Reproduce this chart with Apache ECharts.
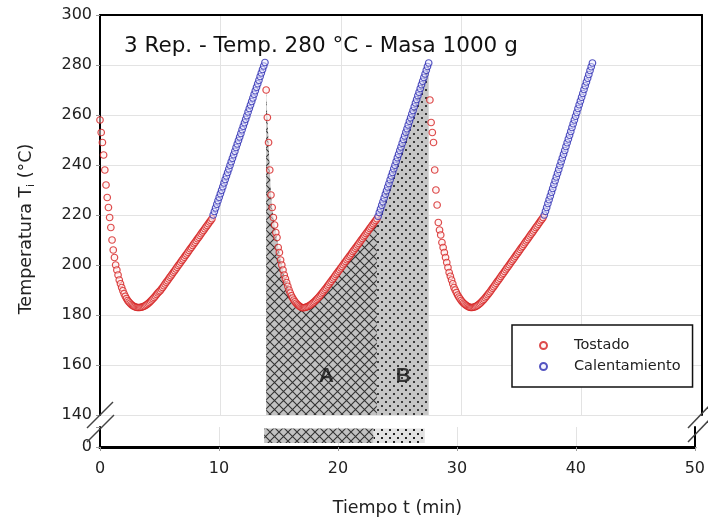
<!DOCTYPE html>
<html>
<head>
<meta charset="utf-8">
<script src="https://cdn.jsdelivr.net/npm/echarts@6/dist/echarts.min.js"></script>
<style>
html,body{margin:0;padding:0;background:#fff;}
#chart{width:708px;height:523px;}
</style>
</head>
<body>
<div id="chart"></div>
<script>
// ---------------- DATA ----------------
const chartTitle = '3 Rep. - Temp. 280 °C - Masa 1000 g';
const seriesNames = ['Tostado', 'Calentamiento'];
const xTicks = [0, 10, 20, 30, 40, 50];
const yTicksUpper = [140, 160, 180, 200, 220, 240, 260, 280, 300];
const yTicksLower = [0];
const sampleStep = 0.1;               // min between readings
const tostadoStart = [0.0, 13.8, 27.4];   // min
const calentStart = [9.4, 23.1, 36.9];    // min

const tostado1 = [258,253,249,244,238,232,227,223,219,215,
  210,206,203,200,198,196,194,192.5,191,189.7,
  188.5,187.5,186.6,185.8,185.2,184.7,184.2,183.8,183.5,183.3,
  183.1,183,183,183,183.1,183.2,183.4,183.6,183.9,184.2,
  184.6,185,185.5,186,186.5,187,187.6,188.2,188.8,189.3,
  189.7,190.4,191,191.7,192.4,193.1,193.7,194.4,195.1,195.7,
  196.4,197.1,197.7,198.4,199.1,199.8,200.4,201.1,201.8,202.4,
  203.1,203.8,204.4,205.1,205.8,206.5,207.1,207.8,208.5,209.1,
  209.8,210.5,211.1,211.8,212.5,213.2,213.8,214.5,215.2,215.8,
  216.5,217.2,217.8,218.5];
const calent1 = [220,221.4,222.8,224.3,225.7,227.1,228.5,229.9,231.3,232.8,
  234.2,235.6,237,238.4,239.9,241.3,242.7,244.1,245.5,247,
  248.4,249.8,251.2,252.6,254.1,255.5,256.9,258.3,259.7,261.2,
  262.6,264,265.4,266.8,268.3,269.7,271.1,272.5,273.9,275.4,
  276.8,278.2,279.6,281];
const tostado2 = [270,259,249,238,228,223,219,216,213,211,
  207,205,202,200,198,196,194.5,193,191.5,190,
  188.8,187.7,186.8,186,185.3,184.7,184.2,183.8,183.4,183.1,
  182.9,182.9,183,183.1,183.3,183.5,183.8,184.1,184.5,184.9,
  185.3,185.8,186.3,186.8,187.3,187.9,188.5,189.1,189.7,190.3,
  190.9,191.6,192.2,192.9,193.5,194.2,194.8,195.5,196.2,196.8,
  197.5,198.1,198.8,199.4,200.1,200.8,201.4,202.1,202.7,203.4,
  204,204.7,205.4,206,206.7,207.3,208,208.6,209.3,210,
  210.6,211.3,211.9,212.6,213.2,213.9,214.6,215.2,215.9,216.5,
  217.2,217.8,218.5];
const calent2 = [219.5,221,222.4,223.9,225.3,226.8,228.3,229.7,231.2,232.6,
  234.1,235.6,237,238.5,239.9,241.4,242.9,244.3,245.8,247.2,
  248.7,250.2,251.6,253.1,254.5,256,257.5,258.9,260.4,261.8,
  263.3,264.8,266.2,267.7,269.1,270.6,272.1,273.5,275,276.4,
  277.9,279.4,280.8];
const tostado3 = [266,257,253,249,238,230,224,217,214,212,
  209,207,205,203,201,199,197,195.5,194,192.5,
  191,190,189,188,187.2,186.5,185.8,185.2,184.7,184.3,
  183.9,183.6,183.3,183.1,183,183,183.1,183.2,183.4,183.7,
  184,184.4,184.8,185.3,185.8,186.3,186.9,187.5,188.1,188.7,
  189.3,190,190.7,191.3,192,192.7,193.4,194,194.7,195.4,
  196.1,196.7,197.4,198.1,198.8,199.4,200.1,200.8,201.5,202.1,
  202.8,203.5,204.2,204.8,205.5,206.2,206.9,207.5,208.2,208.9,
  209.6,210.2,210.9,211.6,212.3,212.9,213.6,214.3,215,215.6,
  216.3,217,217.7,218.3,219];
const calent3 = [220,221.5,223,224.6,226.1,227.6,229.1,230.6,232.2,233.7,
  235.2,236.7,238.2,239.8,241.3,242.8,244.3,245.8,247.4,248.9,
  250.4,251.9,253.4,255,256.5,258,259.5,261,262.6,264.1,
  265.6,267.1,268.6,270.2,271.7,273.2,274.7,276.2,277.8,279.3,
  280.8];

const regionNames = ['A', 'B'];
const regionBounds = [[13.8, 23.0], [23.0, 27.3]];   // min
const regionLabelPos = [[18.8, 155.5], [25.2, 155.5]];

// ---------------- BUILD ----------------
function toPoints(start, arr) {
  return arr.map((v, i) => [+(start + i * sampleStep).toFixed(2), v]);
}
const tostadoArrs = [tostado1, tostado2, tostado3];
const calentArrs = [calent1, calent2, calent3];
const tostadoPts = [].concat(...tostadoArrs.map((a, k) => toPoints(tostadoStart[k], a)));
const calentPts = [].concat(...calentArrs.map((a, k) => toPoints(calentStart[k], a)));
const areaA = toPoints(tostadoStart[1], tostado2);
const areaB = [[regionBounds[1][0], tostado2[tostado2.length - 1]]].concat(toPoints(calentStart[1], calent2));

function crossPattern(bg, fg) {
  const c = document.createElement('canvas'); c.width = 9; c.height = 9;
  const g = c.getContext('2d');
  g.fillStyle = bg; g.fillRect(0, 0, 9, 9);
  g.strokeStyle = fg; g.lineWidth = 1.1;
  g.beginPath(); g.moveTo(0, 0); g.lineTo(9, 9); g.moveTo(9, 0); g.lineTo(0, 9); g.stroke();
  return c;
}
function dotPattern(bg, fg) {
  const c = document.createElement('canvas'); c.width = 8; c.height = 8;
  const g = c.getContext('2d');
  g.fillStyle = bg; g.fillRect(0, 0, 8, 8);
  g.fillStyle = fg;
  g.fillRect(1, 1, 2, 2); g.fillRect(5, 5, 2, 2);
  return c;
}
const patA = { image: crossPattern('#c2c2c2', '#333'), repeat: 'repeat' };
const patB = { image: dotPattern('#c6c6c6', '#3a3a3a'), repeat: 'repeat' };
const patBLow = { image: dotPattern('#e2e2e2', '#222'), repeat: 'repeat' };

const FONT = 'DejaVu Sans, Verdana, sans-serif';
const RED = '#d41e1e', BLUE = '#2a2ab2';
const gridGray = '#e3e3e3';

const chart = echarts.init(document.getElementById('chart'), null, { renderer: 'canvas' });
const option = {
  animation: false,
  backgroundColor: '#fff',
  textStyle: { fontFamily: FONT },
  title: {
    text: chartTitle, left: 119, top: 30,
    textStyle: { fontSize: 21.5, fontWeight: 'normal', color: '#111', fontFamily: FONT }
  },
  legend: {
    data: seriesNames,
    orient: 'vertical', left: 512, top: 325,
    padding: [12, 12, 12, 27], itemGap: 4,
    itemWidth: 7, itemHeight: 7,
    borderColor: '#111', borderWidth: 1.5, borderRadius: 0,
    backgroundColor: '#fff',
    textStyle: { fontSize: 14.5, color: '#222', fontFamily: FONT, lineHeight: 17, padding: [0, 0, 0, 22] }
  },
  grid: [
    { left: 100, right: 6, top: 15, height: 400 },
    { left: 100, right: 6, top: 427, height: 20 }
  ],
  xAxis: [
    { gridIndex: 0, type: 'value', min: 0, max: 50, interval: 10, position: 'bottom',
      axisLine: { show: false }, axisTick: { show: false }, axisLabel: { show: false },
      splitLine: { show: true, lineStyle: { color: gridGray, width: 1 } } },
    { gridIndex: 0, type: 'value', min: 0, max: 50, interval: 10, position: 'top',
      axisLine: { show: true, onZero: false, lineStyle: { color: '#000', width: 2 } },
      axisTick: { show: false }, axisLabel: { show: false }, splitLine: { show: false } },
    { gridIndex: 1, type: 'value', min: 0, max: 50, interval: 10, position: 'bottom',
      axisLine: { show: true, onZero: false, lineStyle: { color: '#000', width: 3 } },
      axisTick: { show: true, length: 4, lineStyle: { color: '#999' } },
      axisLabel: { show: true, fontSize: 16, color: '#222', margin: 14, fontFamily: FONT,
        customValues: xTicks },
      splitLine: { show: true, lineStyle: { color: gridGray, width: 1 } },
      name: 'Tiempo t (min)', nameLocation: 'middle', nameGap: 52,
      nameTextStyle: { fontSize: 17.5, color: '#222', fontFamily: FONT } }
  ],
  yAxis: [
    { gridIndex: 0, type: 'value', min: 140, max: 300, interval: 20, position: 'left',
      axisLine: { show: true, onZero: false, lineStyle: { color: '#000', width: 2 } },
      axisTick: { show: true, length: 4, lineStyle: { color: '#999' } },
      axisLabel: { fontSize: 16, color: '#222', margin: 8, fontFamily: FONT },
      splitLine: { show: true, lineStyle: { color: gridGray, width: 1 } },
      name: 'Temperatura T{sub|i} (°C)', nameLocation: 'middle', nameGap: 63,
      nameTextStyle: { fontSize: 17.5, color: '#222', fontFamily: FONT, lineHeight: 22,
        padding: [0, 28, 0, 0],
        rich: { sub: { fontSize: 11, verticalAlign: 'bottom', lineHeight: 22, fontFamily: FONT, color: '#222' } } } },
    { gridIndex: 0, type: 'value', min: 140, max: 300, interval: 20, position: 'right',
      axisLine: { show: true, onZero: false, lineStyle: { color: '#000', width: 2 } },
      axisTick: { show: false }, axisLabel: { show: false }, splitLine: { show: false } },
    { gridIndex: 1, type: 'value', min: 0, max: 10, interval: 10, position: 'left',
      axisLine: { show: true, onZero: false, lineStyle: { color: '#000', width: 2 } },
      axisTick: { show: true, length: 4, lineStyle: { color: '#999' } },
      axisLabel: { fontSize: 16, color: '#222', margin: 8, fontFamily: FONT,
        formatter: v => (yTicksLower.indexOf(v) >= 0 ? String(v) : '') },
      splitLine: { show: false } },
    { gridIndex: 1, type: 'value', min: 0, max: 10, interval: 10, position: 'right',
      axisLine: { show: true, onZero: false, lineStyle: { color: '#000', width: 2 } },
      axisTick: { show: false }, axisLabel: { show: false }, splitLine: { show: false } }
  ],
  series: [
    { name: 'regionA', type: 'line', xAxisIndex: 0, yAxisIndex: 0, data: areaA,
      symbol: 'none', silent: true, z: 1, lineStyle: { width: 0, opacity: 0 },
      areaStyle: { color: patA, opacity: 1, origin: 'start' } },
    { name: 'regionB', type: 'line', xAxisIndex: 0, yAxisIndex: 0, data: areaB,
      symbol: 'none', silent: true, z: 1, lineStyle: { width: 0, opacity: 0 },
      areaStyle: { color: patB, opacity: 1, origin: 'start' } },
    { name: 'regionLow', type: 'custom', xAxisIndex: 2, yAxisIndex: 2, silent: true, z: 1,
      data: regionBounds.map((b, i) => [b[0], b[1], i]),
      renderItem: function (params, api) {
        const p0 = api.coord([api.value(0), 9.3]);
        const p1 = api.coord([api.value(1), 2]);
        return { type: 'rect',
          shape: { x: p0[0], y: p0[1], width: p1[0] - p0[0], height: p1[1] - p0[1] },
          style: { fill: api.value(2) === 0 ? patA : patBLow } };
      } },
    { name: seriesNames[0], type: 'scatter', xAxisIndex: 0, yAxisIndex: 0, data: tostadoPts,
      symbol: 'circle', symbolSize: 6.5, z: 3,
      itemStyle: { color: 'rgba(255,235,235,0.6)', borderColor: RED, borderWidth: 1.2 } },
    { name: seriesNames[1], type: 'scatter', xAxisIndex: 0, yAxisIndex: 0, data: calentPts,
      symbol: 'circle', symbolSize: 6.5, z: 3,
      itemStyle: { color: 'rgba(235,235,255,0.6)', borderColor: BLUE, borderWidth: 1.2 } },
    { name: 'labels', type: 'scatter', xAxisIndex: 0, yAxisIndex: 0, silent: true, z: 4,
      symbolSize: 0,
      data: regionNames.map((n, i) => ({ name: n, value: regionLabelPos[i] })),
      label: { show: true, position: 'inside', formatter: '{b}', fontSize: 21, fontWeight: 'bold',
        color: '#111', fontFamily: 'Liberation Sans, Arial, sans-serif' } }
  ],
  graphic: [
    { type: 'line', shape: { x1: 87, y1: 428, x2: 113, y2: 402 }, style: { stroke: '#444', lineWidth: 1.5 }, z: 10 },
    { type: 'line', shape: { x1: 87, y1: 442, x2: 114, y2: 415 }, style: { stroke: '#444', lineWidth: 1.5 }, z: 10 },
    { type: 'line', shape: { x1: 688, y1: 428, x2: 712, y2: 403 }, style: { stroke: '#444', lineWidth: 1.5 }, z: 10 },
    { type: 'line', shape: { x1: 688, y1: 442, x2: 712, y2: 417 }, style: { stroke: '#444', lineWidth: 1.5 }, z: 10 }
  ]
};
chart.setOption(option);
</script>
</body>
</html>
